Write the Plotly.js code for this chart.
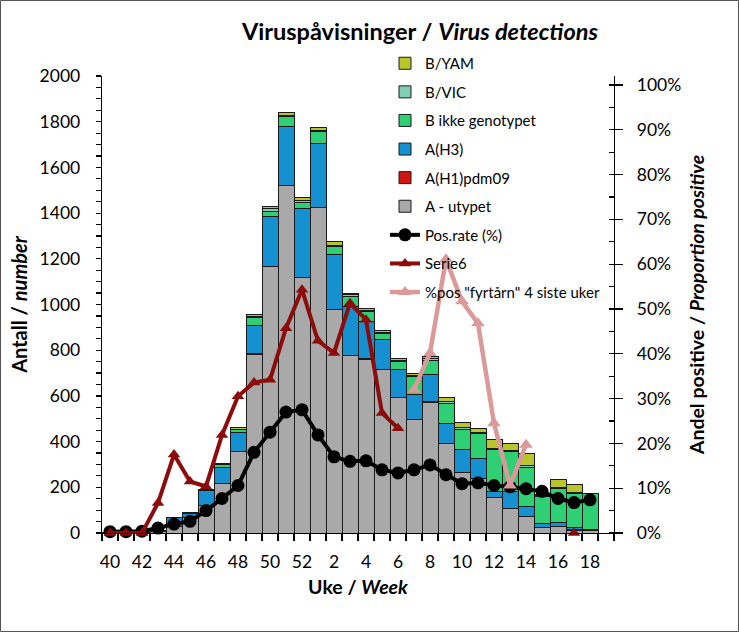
<!DOCTYPE html>
<html>
<head>
<meta charset="utf-8">
<script src="https://cdn.plot.ly/plotly-3.0.1.min.js"></script>
<style>
html,body{margin:0;padding:0;background:#fff;}
#chart{width:739px;height:632px;}
</style>
</head>
<body>
<div id="chart"></div>
<script>
// Weeks (season 40 -> 19)
const weeks = ["40","41","42","43","44","45","46","47","48","49","50","51","52",
  "1","2","3","4","5","6","7","8","9","10","11","12","13","14","15","16","17","18","19"];
const weekLabels = ["40","","42","","44","","46","","48","","50","","52",
  "","2","","4","","6","","8","","10","","12","","14","","16","","18",""];

// Stacked bar series (number of detections)
const aUtypet = [2,2,3,6,30,70,119,215,357,782,1165,1519,1119,
  1425,979,779,760,714,594,498,573,393,266,240,155,109,71,26,29,12,10,0];
const aH1pdm09 = [0,0,0,0,0,0,0,0,0,2,0,0,0,
  0,0,0,2,0,0,0,2,0,0,0,2,0,2,0,0,2,2,0];
const aH3 = [0,0,0,4,36,16,66,73,84,126,219,261,301,
  280,240,211,163,131,120,106,117,88,98,88,25,73,41,15,17,8,2,0];
const bIkkeGenotypet = [0,0,0,0,2,4,4,11,12,34,24,41,27,
  50,34,47,44,26,36,80,65,87,90,106,182,175,174,119,148,150,158,0];
const bVIC = [0,0,0,0,0,0,0,3,2,3,10,7,10,
  7,7,5,5,5,6,6,6,7,6,4,8,4,6,5,7,7,3,0];
const bYAM = [0,0,0,0,0,0,0,0,7,10,12,12,12,
  12,14,7,9,9,9,9,8,18,24,21,39,32,53,2,32,35,0,0];

// Line series (percent, right axis)
const posRate = [0.3,0.3,0.4,1.1,2.0,2.6,5.0,7.7,10.6,18.0,22.5,27.0,27.5,
  21.9,17.0,16.0,16.1,14.1,13.4,14.1,15.2,13.0,11.0,11.2,10.6,10.3,9.9,9.3,7.7,6.8,7.4,null];
const serie6 = [0,0,0,6.7,17.5,11.5,10.4,21.9,30.5,33.6,34.2,45.7,54.3,
  42.9,40.2,51.3,47.6,26.8,23.4,null,null,null,null,null,null,null,null,null,null,0,null,null];
const fyrtarn = [null,null,null,null,null,null,null,null,null,null,null,null,null,
  null,null,null,null,null,null,32.0,40.2,61.1,51.7,46.8,24.5,10.6,19.7,null,null,null,null,null];

const FONT = "Lato, 'Open Sans', sans-serif";
const outline = {color: "#1a1a1a", width: 1};

function barTrace(name, vals, color, rank) {
  return {type: "bar", name: name, x: weeks, y: vals, legendgroup: name, legendrank: rank,
    marker: {color: color, line: outline}, hoverinfo: "x+y+name"};
}

const data = [
  barTrace("A - utypet", aUtypet, "#a9a9a9", 6),
  barTrace("A(H1)pdm09", aH1pdm09, "#d41414", 5),
  barTrace("A(H3)", aH3, "#1591d2", 4),
  barTrace("B ikke genotypet", bIkkeGenotypet, "#2fcf74", 3),
  barTrace("B/VIC", bVIC, "#7fcfb4", 2),
  barTrace("B/YAM", bYAM, "#b9c52a", 1),
  {type: "scatter", mode: "lines+markers", name: "Pos.rate (%)", x: weeks, y: posRate,
    yaxis: "y2", legendgroup: "pos", legendrank: 7, cliponaxis: false,
    line: {color: "#000000", width: 4}, marker: {symbol: "circle", size: 13, color: "#000000"}},
  {type: "scatter", mode: "lines+markers", name: "Serie6", x: weeks, y: serie6,
    yaxis: "y2", legendgroup: "s6", legendrank: 8, cliponaxis: false, connectgaps: false,
    line: {color: "#8c0c0c", width: 4}, marker: {symbol: "triangle-up", size: 11, color: "#8c0c0c"}},
  {type: "scatter", mode: "lines+markers", name: "%pos \"fyrtårn\" 4 siste uker", x: weeks, y: fyrtarn,
    yaxis: "y3", legendgroup: "fy", legendrank: 9, cliponaxis: false, connectgaps: false,
    line: {color: "#d99a99", width: 4.5}, marker: {symbol: "triangle-up", size: 12, color: "#d99a99"}}
];

const plotL = 102, plotR = 614, plotT = 76, plotB = 533;
const W = 739, H = 632;
const pw = plotR - plotL, ph = plotB - plotT;

const layout = {
  width: W, height: H,
  margin: {l: plotL, r: W - plotR, t: plotT, b: H - plotB, pad: 0},
  paper_bgcolor: "#ffffff", plot_bgcolor: "#ffffff",
  font: {family: FONT, size: 17.5, color: "#000"},
  barmode: "stack", bargap: 0,
  showlegend: true,
  title: {text: "<b>Viruspåvisninger / <i>Virus detections</i></b>",
    font: {family: FONT, size: 23.5, color: "#000"},
    xref: "container", yref: "container", x: 420 / W, xanchor: "center",
    y: 1 - 32 / H, yanchor: "middle"},
  xaxis: {type: "category", categoryorder: "array", categoryarray: weeks,
    range: [-0.5, weeks.length - 0.5],
    tickmode: "array", tickvals: weeks, ticktext: weekLabels, tickangle: 0,
    tickson: "boundaries", ticks: "outside", ticklen: 7, tickwidth: 1.2, tickcolor: "#000",
    showline: true, linecolor: "#000", linewidth: 1.3, showgrid: false, zeroline: false,
    tickfont: {family: FONT, size: 17.5}, ticklabelstandoff: 13,
    title: {text: "<b>Uke / <i>Week</i></b>", font: {family: FONT, size: 19.5}, standoff: 9}},
  yaxis: {range: [0, 2000], dtick: 200, tick0: 0, ticks: "outside", ticklen: 5, tickwidth: 1.2,
    tickcolor: "#000", showline: true, linecolor: "#000", linewidth: 1.3,
    showgrid: false, zeroline: false, ticklabelstandoff: 12,
    minor: {dtick: 50, tick0: 0, ticks: "outside", ticklen: 5, tickwidth: 1.2, tickcolor: "#000", showgrid: false},
    tickfont: {family: FONT, size: 17.5},
    title: {text: "<b>Antall / <i>number</i></b>", font: {family: FONT, size: 20}, standoff: 6}},
  yaxis2: {overlaying: "y", side: "right", anchor: "x", range: [0, 102], dtick: 10, tick0: 0,
    ticksuffix: "%", ticks: "outside", ticklen: 8, tickwidth: 1.2, tickcolor: "#000",
    showline: true, linecolor: "#000", linewidth: 1.3, showgrid: false, zeroline: false,
    ticklabelstandoff: 10,
    minor: {dtick: 5, tick0: 0, ticks: "inside", ticklen: 5, tickwidth: 1.2, tickcolor: "#000", showgrid: false},
    tickfont: {family: FONT, size: 17.5},
    title: {text: "<b>Andel positive / <i>Proportion positive</i></b>", font: {family: FONT, size: 19.5}, standoff: 10}},
  yaxis3: {overlaying: "y", side: "right", anchor: "x", range: [0, 102], dtick: 10, tick0: 0,
    ticks: "inside", ticklen: 5, tickwidth: 1.2, tickcolor: "#000",
    showticklabels: false, showline: false, showgrid: false, zeroline: false},
  legend: {x: (385 - plotL) / pw, xanchor: "left", y: (plotB - 47) / ph, yanchor: "top",
    traceorder: "grouped", tracegroupgap: 6.1, bgcolor: "rgba(0,0,0,0)", borderwidth: 0,
    font: {family: FONT, size: 15, color: "#000"}},
  shapes: [{type: "rect", xref: "paper", yref: "paper",
    x0: (0.5 - plotL) / pw, x1: (W - 0.5 - plotL) / pw,
    y0: (plotB - (H - 0.5)) / ph, y1: (plotB - 0.5) / ph,
    line: {color: "#555", width: 1}, fillcolor: "rgba(0,0,0,0)", layer: "below"}]
};

Plotly.newPlot("chart", data, layout, {displayModeBar: false, staticPlot: true});
</script>
</body>
</html>
